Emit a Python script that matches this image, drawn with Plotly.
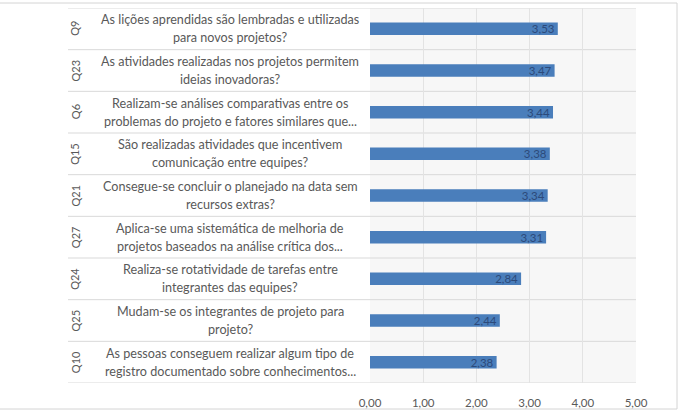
import plotly.graph_objects as go

codes = ["Q9", "Q23", "Q6", "Q15", "Q21", "Q27", "Q24", "Q25", "Q10"]
questions_l1 = [
    "As lições aprendidas são lembradas e utilizadas",
    "As atividades realizadas nos projetos permitem",
    "Realizam-se análises comparativas entre os",
    "São realizadas atividades que incentivem",
    "Consegue-se concluir o planejado na data sem",
    "Aplica-se uma sistemática de melhoria de",
    "Realiza-se rotatividade de tarefas entre",
    "Mudam-se os integrantes de projeto para",
    "As pessoas conseguem realizar algum tipo de",
]
questions_l2 = [
    "para novos projetos?",
    "ideias inovadoras?",
    "problemas do projeto e fatores similares que...",
    "comunicação entre equipes?",
    "recursos extras?",
    "projetos baseados na análise crítica dos...",
    "integrantes das equipes?",
    "projeto?",
    "registro documentado sobre conhecimentos...",
]
values = [3.53, 3.47, 3.44, 3.38, 3.34, 3.31, 2.84, 2.44, 2.38]
x_ticks = [0, 1, 2, 3, 4, 5]

W, H = 683, 412
L, R, T, B = 370, 47, 8, 29
pw, ph = W - L - R, H - T - B


def px2x(px):
    return (px - L) / pw


def px2y(py):
    return (H - B - py) / ph


font_fam = "Lato, 'Open Sans', sans-serif"
txt_col = "#595959"
line_col = "#d9d9d9"
frame_col = "#d4d4d4"

fig = go.Figure()
fig.add_trace(go.Bar(
    x=values,
    y=list(range(len(codes))),
    orientation="h",
    marker=dict(color="#4a7ebb", line=dict(width=0)),
    width=0.3,
    texttemplate="%{x:.2f}",
    textposition="inside",
    insidetextanchor="end",
    textfont=dict(color="#2c4a7a", size=11.5, family=font_fam),
    hoverinfo="skip",
))

shapes = []
n = len(codes)
for i in range(n + 1):
    shapes.append(dict(type="line", xref="paper", yref="y",
                       x0=px2x(68), x1=1, y0=i - 0.5, y1=i - 0.5,
                       line=dict(color=line_col, width=1), layer="below"))
# outer frame (top, right, bottom)
for (x0, y0, x1, y1) in [(0, 3, 677, 3), (677, 3, 677, 409), (0, 409, 677, 409)]:
    shapes.append(dict(type="line", xref="paper", yref="paper",
                       x0=px2x(x0), x1=px2x(x1), y0=px2y(y0), y1=px2y(y1),
                       line=dict(color=frame_col, width=1), layer="below"))

annotations = []
for i, c in enumerate(codes):
    annotations.append(dict(xref="paper", yref="y", x=px2x(75), y=i,
                            text=c, textangle=-90, showarrow=False,
                            font=dict(size=11, color=txt_col, family=font_fam),
                            xanchor="center", yanchor="middle"))
    for off, txt in ((-0.215, questions_l1[i]), (0.215, questions_l2[i])):
        annotations.append(dict(xref="paper", yref="y", x=px2x(230), y=i + off,
                                text=txt, showarrow=False, align="center",
                                font=dict(size=12.6, color=txt_col, family=font_fam),
                                xanchor="center", yanchor="middle"))

fig.update_layout(
    width=W, height=H, autosize=False,
    margin=dict(l=L, r=R, t=T, b=B, pad=0, autoexpand=False),
    paper_bgcolor="white",
    plot_bgcolor="#f7f7f7",
    separators=",.",
    showlegend=False,
    uniformtext=dict(minsize=11, mode="show"),
    font=dict(family=font_fam, color=txt_col, size=11),
    xaxis=dict(range=[0, 5], tickvals=x_ticks, tickformat=".2f",
               automargin=False,
               showgrid=True, gridcolor="#e3e3e3", gridwidth=1,
               zeroline=False, showline=False,
               ticks="outside", ticklen=9, tickcolor="rgba(0,0,0,0)",
               tickfont=dict(size=11.5, color=txt_col), fixedrange=True),
    yaxis=dict(range=[n - 0.5, -0.5], showticklabels=False, showgrid=False,
               automargin=False,
               zeroline=False, showline=False, ticks="", fixedrange=True),
    shapes=shapes,
    annotations=annotations,
)

fig.write_html("out.html", config={"displayModeBar": False},
               post_script="document.body.style.margin='0';")
